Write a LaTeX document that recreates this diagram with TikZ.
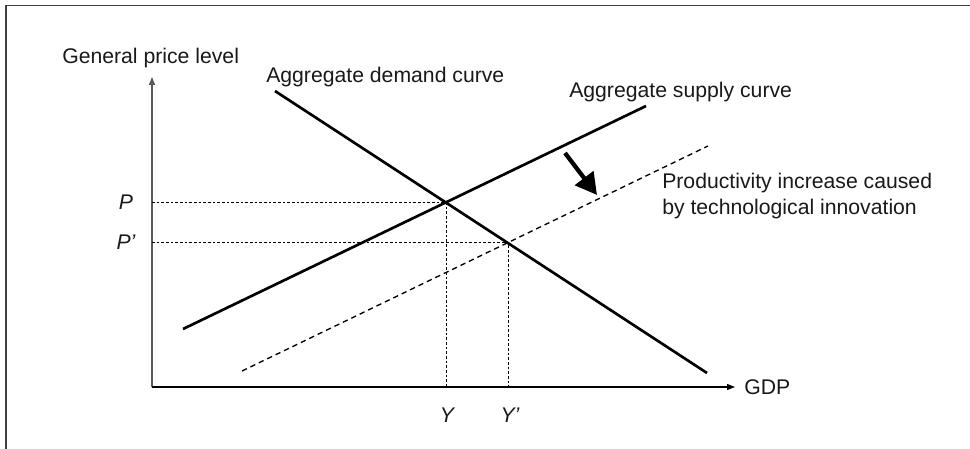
\documentclass[tikz,border=0pt]{standalone}
\usepackage{fontspec}
\setmainfont{Liberation Sans}
\usetikzlibrary{arrows.meta}

\begin{document}
\begin{tikzpicture}[
  x=0.75pt, y=-0.75pt,
  lbl/.style={font=\fontsize{15.9}{19.5}\selectfont, inner sep=0pt, text=black!90},
  sym/.style={lbl, font=\fontsize{15.9}{19.5}\selectfont\itshape},
  axis/.style={line width=0.9pt, -{Triangle[length=6pt, width=4.5pt]}},
  curve/.style={line width=2pt},
  guide/.style={line width=0.7pt, dash pattern=on 2pt off 1.5pt},
  shifted/.style={line width=1pt, dash pattern=on 4pt off 3pt},
  bigarr/.style={line width=3.2pt, -{Triangle[length=16pt, width=17pt]}}
]
\useasboundingbox (0,0) rectangle (970,449);
% frame (open at right and bottom)
\draw[line width=1.2pt, black!75] (6,449) -- (6,5.5) -- (970,5.5);

% axes
\coordinate (o) at (152,387);
\coordinate (ytop) at (152,77);
\coordinate (xend) at (735,387);
\draw[axis, black!65] (o) -- (ytop);
\draw[axis] (o) -- (xend);
\node[lbl, anchor=west] (ylab) at (62,58) {General price level};
\node[lbl, anchor=west] (gdp) at (744,387) {GDP};

% curves
\coordinate (ad1) at (275,91);
\coordinate (ad2) at (707,373);
\coordinate (as1) at (183,329);
\coordinate (as2) at (646,106);
\coordinate (sh1) at (242,371);
\coordinate (sh2) at (708,146);
\coordinate (e1) at (446,202);
\coordinate (e2) at (508,242);

% guide lines to the axes
\node[sym] (p) at (126,202) {P};
\node[sym] (pp) at (126,242) {P’};
\node[sym] (y) at (447,415) {Y};
\node[sym] (yp) at (510,415) {Y’};
\draw[guide] (o |- e1) -- (e1) -- (e1 |- o);
\draw[guide] (o |- e2) -- (e2) -- (e2 |- o);

\draw[curve] (ad1) -- (ad2);
\draw[curve] (as1) -- (as2);
\draw[shifted] (sh1) -- (sh2);

\node[lbl, anchor=west] (ad) at (266,77) {Aggregate demand curve};
\node[lbl, anchor=west] (as) at (569,92) {Aggregate supply curve};
\node[lbl, anchor=west, align=left] (shift) at (662,196) {Productivity increase caused\\by technological innovation};

% shift of the supply curve
\coordinate (s1) at (565,153);
\coordinate (s2) at (597,195);
\draw[bigarr] (s1) -- (s2);
\end{tikzpicture}
\end{document}
